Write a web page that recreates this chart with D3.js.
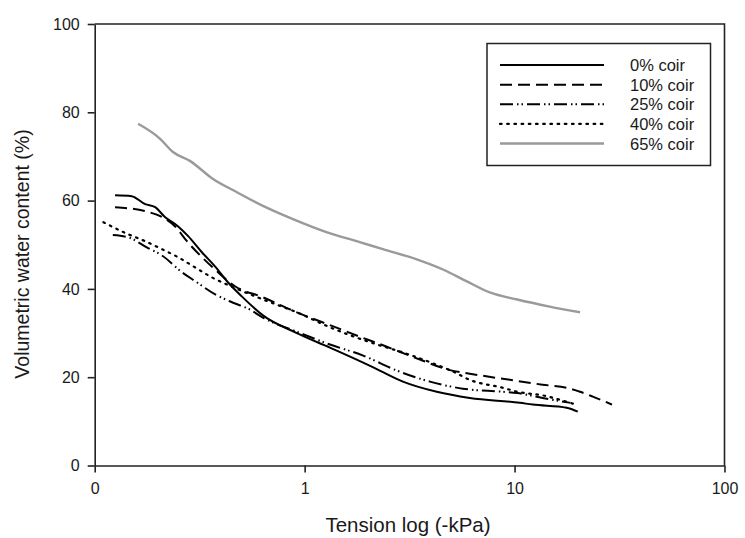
<!DOCTYPE html>
<html>
<head>
<meta charset="utf-8">
<script src="https://cdn.jsdelivr.net/npm/d3@7"></script>
<style>
  body { margin: 0; background: #fff; }
  text { font-family: "Liberation Sans", Arial, sans-serif; fill: #1a1a1a; }
</style>
</head>
<body>
<div id="container"></div>
<script>
// Hard Code values ---------- ---------- ----------
let canvasW = 745, canvasH = 538;
let xTitle = "Tension log (-kPa)";
let yTitle = "Volumetric water content (%)";

// Data --------------------------------- ---------- ----------
let seriesNames = ["0% coir", "10% coir", "25% coir", "40% coir", "65% coir"];

let coir0x  = [0.125, 0.150, 0.174, 0.194, 0.216, 0.249, 0.278, 0.324, 0.374, 0.431, 0.502, 0.633, 0.918, 1.32, 1.90, 2.28, 2.94, 4.26, 6.12, 10.6, 12.2, 17.7, 20.0];
let coir0y  = [61.2, 61.0, 59.2, 58.5, 56.3, 54.2, 52.0, 48.3, 45.1, 41.5, 38.3, 34.0, 30.0, 26.7, 23.3, 21.5, 19.0, 16.7, 15.3, 14.2, 13.8, 13.1, 12.2];

let coir10x = [0.125, 0.174, 0.209, 0.241, 0.275, 0.324, 0.374, 0.466, 0.633, 0.918, 1.32, 2.05, 2.28, 3.54, 4.92, 6.12, 9.50, 13.6, 17.7, 20.5, 23.6, 29.1];
let coir10y = [58.5, 57.6, 56.3, 54.2, 50.8, 47.2, 44.4, 40.6, 38.1, 34.7, 31.8, 28.3, 27.5, 24.0, 21.6, 20.8, 19.4, 18.3, 17.6, 16.7, 15.6, 13.8];

let coir25x = [0.122, 0.144, 0.177, 0.210, 0.260, 0.300, 0.380, 0.440, 0.549, 0.633, 0.918, 1.32, 1.90, 2.75, 3.95, 5.67, 8.79, 10.3, 13.6, 18.4];
let coir25y = [52.2, 51.7, 49.4, 47.5, 43.8, 41.8, 38.6, 37.2, 35.3, 33.5, 30.3, 27.4, 24.9, 21.5, 19.0, 17.4, 16.7, 16.4, 15.3, 14.2];

let coir40x = [0.110, 0.144, 0.174, 0.209, 0.249, 0.300, 0.362, 0.466, 0.633, 0.918, 1.32, 2.21, 2.94, 4.26, 5.08, 6.12, 8.79, 10.3, 13.9, 16.4, 19.0];
let coir40y = [55.1, 52.4, 50.8, 49.0, 47.2, 44.9, 42.6, 40.2, 37.6, 34.7, 31.3, 27.4, 25.6, 22.8, 21.3, 19.4, 17.6, 16.7, 15.8, 14.9, 14.0];

let coir65x = [0.161, 0.205, 0.236, 0.284, 0.366, 0.476, 0.633, 0.880, 1.28, 1.83, 2.36, 3.42, 4.56, 5.93, 7.62, 10.3, 14.7, 20.5];
let coir65y = [77.4, 74.0, 71.0, 69.0, 64.9, 61.9, 58.8, 55.8, 52.8, 50.6, 49.0, 46.7, 44.4, 41.7, 39.2, 37.6, 36.0, 34.7];

let xTicks = [0.1, 1, 10, 100];
let xTickLabels = ["0", "1", "10", "100"];
let yTicks = [0, 20, 40, 60, 80, 100];

// Styles ---------- ---------- ----------
let styles = [
    {color: "#000", width: 2, dash: null},
    {color: "#000", width: 2, dash: "12,6"},
    {color: "#000", width: 2, dash: "13,4,1.5,3,1.5,4"},
    {color: "#000", width: 2.2, dash: "1.6,5.6"},
    {color: "#9a9a9a", width: 2.4, dash: null}
];

//Initialize ---------- ---------- ----------
let margin = {left: 94.7, top: 24, right: 724.5, bottom: 465.5};
let svg = d3.select("#container").append("svg").attr("width", canvasW).attr("height", canvasH);

let x = d3.scaleLog().domain([0.1, 100]).range([margin.left, margin.right]);
let y = d3.scaleLinear().domain([0, 100]).range([margin.bottom, margin.top]);

let series = [
    d3.zip(coir0x, coir0y),
    d3.zip(coir10x, coir10y),
    d3.zip(coir25x, coir25y),
    d3.zip(coir40x, coir40y),
    d3.zip(coir65x, coir65y)
];

// Axes ---------- ---------- ----------
let xAxis = d3.axisBottom(x).tickValues(xTicks).tickFormat((d,i)=>xTickLabels[i]).tickSizeInner(7).tickSizeOuter(0).tickPadding(10);
let yAxis = d3.axisLeft(y).tickValues(yTicks).tickSizeInner(7).tickSizeOuter(0).tickPadding(8);

let gx = svg.append("g").attr("transform", "translate(0," + margin.bottom + ")").call(xAxis);
let gy = svg.append("g").attr("transform", "translate(" + margin.left + ",0)").call(yAxis);
[gx, gy].forEach(g=>{
    g.selectAll("path, line").attr("stroke", "#222").attr("stroke-width", 1.6);
    g.selectAll("text").style("font-size", "16px").attr("fill", "#1a1a1a");
});

// frame top + right
svg.append("path")
    .attr("d", "M" + margin.left + "," + margin.top + "H" + margin.right + "V" + margin.bottom)
    .attr("fill", "none").attr("stroke", "#222").attr("stroke-width", 1.6);

// Titles
svg.append("text").attr("x", 408).attr("y", 532).attr("text-anchor", "middle")
    .style("font-size", "20.5px").text(xTitle);
svg.append("text").attr("transform", "translate(29,254) rotate(-90)").attr("text-anchor", "middle")
    .style("font-size", "19.5px").text(yTitle);

// Lines ---------- ---------- ----------
let line = d3.line().x(d=>x(d[0])).y(d=>y(d[1])).curve(d3.curveMonotoneX);
svg.selectAll(".series").data(series).enter().append("path")
    .attr("class", "series")
    .attr("d", d=>line(d))
    .attr("fill", "none")
    .attr("stroke", (d,i)=>styles[i].color)
    .attr("stroke-width", (d,i)=>styles[i].width)
    .attr("stroke-dasharray", (d,i)=>styles[i].dash)
    .attr("stroke-linecap", (d,i)=>i==3 ? "round" : "butt");

// Legend ---------- ---------- ----------
let legend = svg.append("g");
legend.append("rect").attr("x", 487).attr("y", 43.5).attr("width", 223.5).attr("height", 122)
    .attr("fill", "#fff").attr("stroke", "#222").attr("stroke-width", 1.5);
let rowY = d3.scalePoint().domain(seriesNames).range([65, 143.5]);
seriesNames.forEach((name,i)=>{
    legend.append("line")
        .attr("x1", 500).attr("x2", 604).attr("y1", rowY(name)).attr("y2", rowY(name))
        .attr("stroke", styles[i].color).attr("stroke-width", styles[i].width)
        .attr("stroke-dasharray", styles[i].dash)
        .attr("stroke-linecap", i==3 ? "round" : "butt");
    legend.append("text").attr("x", 630).attr("y", rowY(name) + 6)
        .style("font-size", "16.5px").text(name);
});
</script>
</body>
</html>
